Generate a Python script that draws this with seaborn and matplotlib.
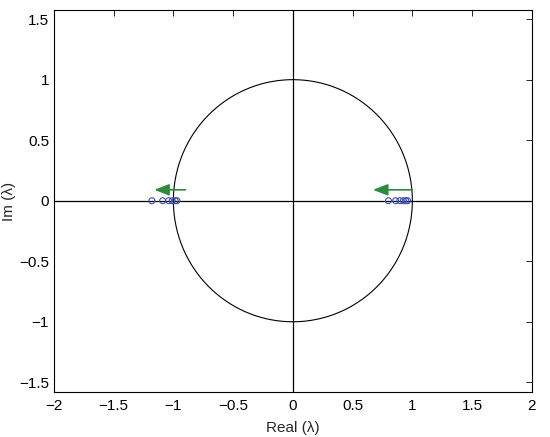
import numpy as np
import pandas as pd
import matplotlib
matplotlib.use("Agg")
import matplotlib.pyplot as plt
import seaborn as sns

sns.set_style("white")
plt.rcParams['font.family'] = ['Liberation Sans', 'DejaVu Sans']

# Eigenvalue data (real parts; imaginary parts are zero)
left_real = [-1.18, -1.09, -1.04, -1.01, -0.985, -0.97]
right_real = [0.80, 0.86, 0.895, 0.925, 0.945, 0.96]
xticks = [-2, -1.5, -1, -0.5, 0, 0.5, 1, 1.5, 2]
yticks = [-1.5, -1, -0.5, 0, 0.5, 1, 1.5]
xtick_labels = ["\u22122", "\u22121.5", "\u22121", "\u22120.5", "0", "0.5", "1", "1.5", "2"]
ytick_labels = ["\u22121.5", "\u22121", "\u22120.5", "0", "0.5", "1", "1.5"]

fig = plt.figure(figsize=(5.5, 4.37), dpi=100)
ax = fig.add_axes([0.098, 0.103, 0.869, 0.874])

# unit circle
theta = np.linspace(0, 2 * np.pi, 400)
circ = pd.DataFrame({"x": np.cos(theta), "y": np.sin(theta)})
sns.lineplot(data=circ, x="x", y="y", sort=False, estimator=None, color="black",
             linewidth=0.8, ax=ax)

# axes lines
ax.axhline(0, color="black", linewidth=0.9, zorder=1)
ax.axvline(0, color="black", linewidth=0.9, zorder=1)

pts = pd.DataFrame({"x": left_real + right_real, "y": [0.0] * (len(left_real) + len(right_real))})
sns.scatterplot(data=pts, x="x", y="y", marker="o", s=18, facecolor="none",
                edgecolor="#3b4fa8", linewidth=0.8, ax=ax, zorder=3)

# arrows
arrowprops = dict(arrowstyle="-|>,head_length=0.9,head_width=0.35", color="#2e8b3e",
                  lw=1.2, shrinkA=0, shrinkB=0)
ax.annotate("", xy=(-1.16, 0.09), xytext=(-0.9, 0.09), arrowprops=arrowprops)
ax.annotate("", xy=(0.67, 0.09), xytext=(1.0, 0.09), arrowprops=arrowprops)

ax.set_xlim(-2, 2)
ax.set_ylim(-1.58, 1.575)
ax.set_xticks(xticks)
ax.set_xticklabels(xtick_labels)
ax.set_yticks(yticks)
ax.set_yticklabels(ytick_labels)
ax.tick_params(direction="in", length=4, width=0.6, top=True, right=True, labelsize=11, colors="black")
ax.tick_params(axis="x", pad=5)
for s in ax.spines.values():
    s.set_color("black")
    s.set_linewidth(0.8)
ax.set_xlabel("Real (\u03bb)", fontsize=11, labelpad=6)
ax.set_ylabel("Im (\u03bb)", fontsize=11, labelpad=2)

fig.savefig("out.png", dpi=100)
